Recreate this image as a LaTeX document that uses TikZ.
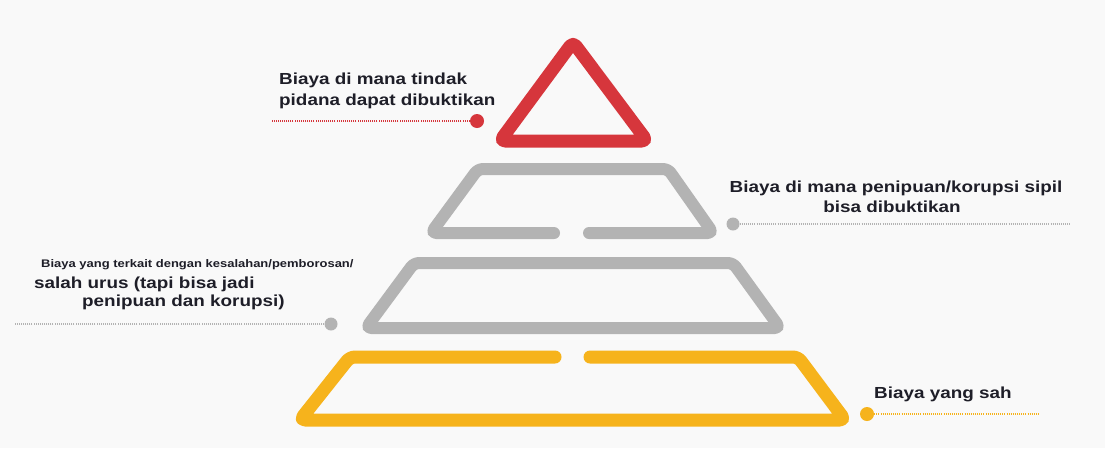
\documentclass[tikz,border=0pt]{standalone}
\usepackage{fontspec}
\newfontfamily\lblfont{Liberation Sans}[FakeStretch=1.18]
\definecolor{bg}{HTML}{F9F9F9}
\definecolor{pyred}{HTML}{D6363C}
\definecolor{pygray}{HTML}{B3B3B3}
\definecolor{pyyellow}{HTML}{F6B31C}
\definecolor{txt}{HTML}{1E1E28}
\tikzset{
  lbl/.style={inner sep=0pt, text=txt, font=\lblfont\bfseries\fontsize{16}{19}\selectfont},
  smalllbl/.style={inner sep=0pt, text=txt, font=\lblfont\bfseries\fontsize{11}{12}\selectfont},
  tier/.style={line width=13pt, line join=round, line cap=round, rounded corners=5pt},
  dot/.style={circle, inner sep=0pt, minimum size=14pt},
  dotline/.style={line width=2.2pt, dash pattern=on 1pt off 1.1pt}
}
\begin{document}
\begin{tikzpicture}[x=1pt,y=-1pt]
\fill[bg] (0,0) rectangle (1105,448);
\path[use as bounding box] (0,0) rectangle (1105,448);

% red triangle
\draw[tier, pyred] (573,42) -- (647,141) -- (500,141) -- cycle;
% gray tier 1 (gap at bottom)
\draw[tier, pygray, line width=12pt] (554,233) -- (431,233) -- (478,169) -- (668,169) -- (713,233) -- (589,233);
% gray tier 2
\draw[tier, pygray, line width=12pt] (414,263) -- (733,263) -- (780,328) -- (366,328) -- cycle;
% yellow tier (gap at top)
\draw[tier, pyyellow] (555,357) -- (350,357) -- (300,420) -- (845,420) -- (798,357) -- (590,357);

% dots and dotted leaders
\node[dot, fill=pyred] (rdot) at (477,121) {};
\coordinate (rend) at (272,121);
\draw[dotline, pyred] (rdot) -- (rend);

\node[dot, fill=pygray, minimum size=13pt] (gdot1) at (733,224) {};
\coordinate (g1end) at (1070,224);
\draw[dotline, pygray] (gdot1) -- (g1end);

\node[dot, fill=pygray, minimum size=13pt] (gdot2) at (331,324) {};
\coordinate (g2end) at (15,324);
\draw[dotline, pygray] (gdot2) -- (g2end);

\node[dot, fill=pyyellow] (ydot) at (867,414) {};
\coordinate (yend) at (1040,414);
\draw[dotline, pyyellow] (ydot) -- (yend);

% labels
\node[lbl, anchor=base west] (r1) at (279,84) {Biaya di mana tindak};
\node[lbl, anchor=base west] (r2) at (279,105) {pidana dapat dibuktikan};

\node[lbl, anchor=base] (g1a) at (896,192) {Biaya di mana penipuan/korupsi sipil};
\node[lbl, anchor=base] (g1b) at (892,212) {bisa dibuktikan};

\node[smalllbl, anchor=base west] (g2a) at (41,267) {Biaya yang terkait dengan kesalahan/pemborosan/};
\node[lbl, anchor=base west] (g2b) at (34,288) {salah urus (tapi bisa jadi};
\node[lbl, anchor=base west] (g2c) at (82,306) {penipuan dan korupsi)};

\node[lbl, anchor=base west] (y1) at (874,398) {Biaya yang sah};
\end{tikzpicture}
\end{document}
